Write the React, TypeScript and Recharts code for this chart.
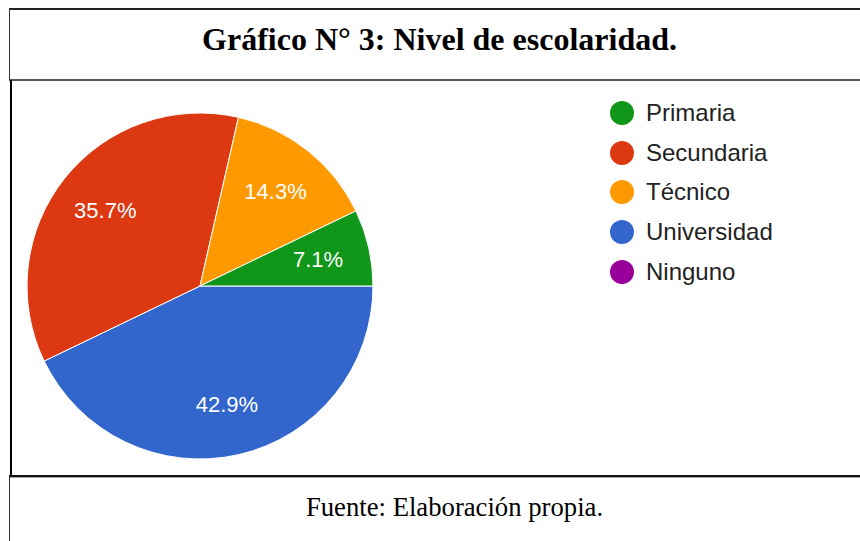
import { PieChart, Pie, Cell, Legend } from 'recharts';

const CATEGORIES = ['Primaria', 'Secundaria', 'Técnico', 'Universidad', 'Ninguno'];
const COUNTS = [1, 5, 2, 6, 0];
const COLORS = ['#109618', '#dc3912', '#ff9900', '#3366cc', '#990099'];

const TITLE = 'Gráfico N° 3: Nivel de escolaridad.';
const SOURCE = 'Fuente: Elaboración propia.';

const SANS = '"Liberation Sans", Arial, sans-serif';
const SERIF = '"Liberation Serif", "Times New Roman", serif';

// google-style: biggest slice first, clockwise from 3 o'clock, empty slices dropped
const pieData = CATEGORIES.map((name, i) => ({ name, value: COUNTS[i], color: COLORS[i] }))
  .filter(d => d.value > 0)
  .sort((a, b) => b.value - a.value);

const RAD = Math.PI / 180;

function renderLabel(props: any) {
  const { cx, cy, midAngle, outerRadius, percent } = props;
  const r = outerRadius * 0.7;
  const x = cx + r * Math.cos(-midAngle * RAD);
  const y = cy + r * Math.sin(-midAngle * RAD);
  return (
    <text x={x} y={y} fill="#fff" textAnchor="middle" dominantBaseline="central" fontSize={22} fontFamily={SANS}>
      {(percent * 100).toFixed(1)}%
    </text>
  );
}

function LegendList() {
  return (
    <div style={{ fontFamily: SANS, fontSize: 24, color: '#222' }}>
      {CATEGORIES.map((name, i) => (
        <div key={name} style={{ display: 'flex', alignItems: 'center', height: 39.75 }}>
          <span style={{ width: 24, height: 24, borderRadius: 12, background: COLORS[i], marginRight: 12, flexShrink: 0 }} />
          <span>{name}</span>
        </div>
      ))}
    </div>
  );
}

function Line({ left, top, width, height, color }: { left: number; top: number; width: number; height: number; color: string }) {
  return <div style={{ position: 'absolute', left, top, width, height, background: color }} />;
}

export default function App() {
  return (
    <div style={{ position: 'absolute', left: 0, top: 0, width: 860, height: 541, background: '#fff', overflow: 'hidden' }}>
      {/* table frame */}
      <Line left={9} top={8} width={851} height={2} color="#222" />
      <Line left={9} top={8} width={1} height={72} color="#333" />
      <Line left={9} top={79} width={851} height={2} color="#555" />
      <Line left={10} top={80} width={2} height={397} color="#000" />
      <Line left={9} top={475} width={851} height={2} color="#111" />
      <Line left={9} top={477} width={851} height={1} color="#aaa" />
      <Line left={9} top={477} width={1} height={64} color="#333" />

      <div style={{ position: 'absolute', left: 0, top: 23.2, width: 879, textAlign: 'center', fontFamily: SERIF, fontWeight: 'bold', fontSize: 32, lineHeight: '32px', whiteSpace: 'nowrap', color: '#000' }}>
        {TITLE}
      </div>

      <div style={{ position: 'absolute', left: 10, top: 81 }}>
        <PieChart width={850} height={394} margin={{ top: 0, right: 0, bottom: 0, left: 0 }}>
          <Pie
            data={pieData}
            dataKey="value"
            nameKey="name"
            cx={190}
            cy={205}
            outerRadius={173}
            startAngle={0}
            endAngle={-360}
            stroke="#fff"
            strokeWidth={1}
            label={renderLabel}
            labelLine={false}
            isAnimationActive={false}
          >
            {pieData.map(d => (
              <Cell key={d.name} fill={d.color} />
            ))}
          </Pie>
          <Legend
            layout="vertical"
            align="right"
            verticalAlign="top"
            content={() => <LegendList />}
            wrapperStyle={{ left: 600, top: 12, width: 240, right: 'auto' }}
          />
        </PieChart>
      </div>

      <div style={{ position: 'absolute', left: 0, top: 493.6, width: 909, textAlign: 'center', fontFamily: SERIF, fontSize: 26.7, lineHeight: '26.7px', whiteSpace: 'nowrap', color: '#000' }}>
        {SOURCE}
      </div>
    </div>
  );
}
